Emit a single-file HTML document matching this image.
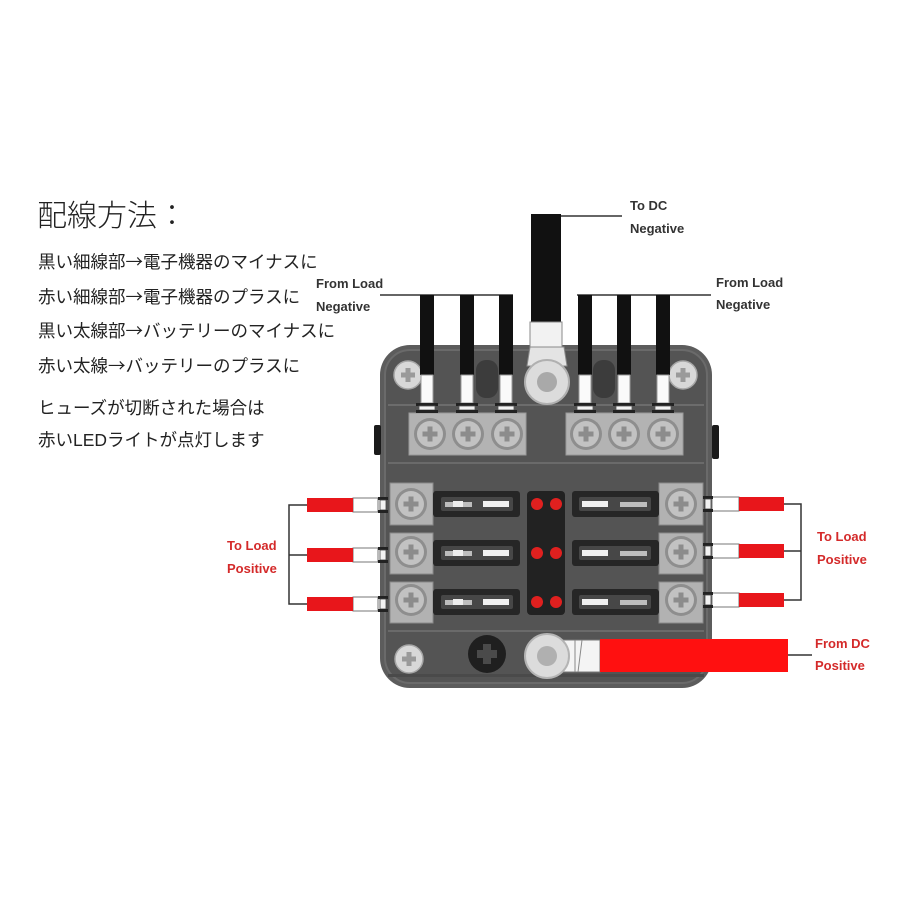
<!DOCTYPE html>
<html><head><meta charset="utf-8"><style>
html,body{margin:0;padding:0;background:#fff;}
svg{display:block;}
.jp{font-family:"Liberation Sans","Noto Sans CJK JP",sans-serif;fill:#222;}
.ar{font-family:"Noto Sans CJK JP",sans-serif;}
.lb{font-family:"Liberation Sans",sans-serif;font-weight:bold;font-size:13px;fill:#333;}
.rd{font-family:"Liberation Sans",sans-serif;font-weight:bold;font-size:13px;fill:#d42a2a;}
</style></head><body>
<svg width="900" height="900" viewBox="0 0 900 900" xmlns="http://www.w3.org/2000/svg">
<defs>
  <g id="scrL">
    <circle r="14" fill="#d8d8d8" stroke="#a6a6a6" stroke-width="1.5"/>
    <rect x="-7" y="-2.5" width="14" height="5" fill="#9a9a9a"/>
    <rect x="-2.5" y="-7" width="5" height="14" fill="#9a9a9a"/>
  </g>
  <g id="scrT">
    <circle r="16" fill="#8e8e8e"/>
    <circle r="13" fill="#c2c2c2"/>
    <rect x="-7.5" y="-2.5" width="15" height="5" fill="#8c8c8c"/>
    <rect x="-2.5" y="-7.5" width="5" height="15" fill="#8c8c8c"/>
  </g>
  <g id="fuseL">
    <rect x="0" y="0" width="87" height="26" rx="3" fill="#262626"/>
    <rect x="8" y="6" width="72" height="14" rx="2" fill="#474747"/>
    <rect x="12" y="11" width="27" height="5" fill="#bdbdbd"/>
    <rect x="20" y="10" width="10" height="6" fill="#eeeeee"/>
    <rect x="50" y="10" width="26" height="6" fill="#f0f0f0"/>
  </g>
  <g id="fuseR">
    <rect x="0" y="0" width="87" height="26" rx="3" fill="#262626"/>
    <rect x="7" y="6" width="72" height="14" rx="2" fill="#474747"/>
    <rect x="10" y="10" width="26" height="6" fill="#f0f0f0"/>
    <rect x="48" y="11" width="27" height="5" fill="#bdbdbd"/>
  </g>
  <g id="wireTop">
    <rect x="-7" y="0" width="14" height="80" fill="#111"/>
    <rect x="-6" y="80" width="12" height="28" fill="#fafafa" stroke="#9a9a9a" stroke-width="1"/>
    <rect x="-11" y="108" width="22" height="3" fill="#222"/>
    <rect x="-8" y="111" width="16" height="4" fill="#f4f4f4" stroke="#555" stroke-width="0.8"/>
    <rect x="-11" y="115" width="22" height="3" fill="#222"/>
  </g>
  <g id="clampL">
    <rect x="0" y="-8" width="10" height="3" fill="#222"/>
    <rect x="2" y="-5" width="6" height="10" fill="#f2f2f2" stroke="#444" stroke-width="0.8"/>
    <rect x="0" y="5" width="10" height="3" fill="#222"/>
  </g>
</defs>

<!-- Left Japanese text -->
<text x="37" y="226" class="jp" font-size="30" font-weight="300">配線方法：</text>
<text x="38" y="268" class="jp" font-size="17.5">黒い細線部<tspan class="ar">→</tspan>電子機器のマイナスに</text>
<text x="38" y="303" class="jp" font-size="17.5">赤い細線部<tspan class="ar">→</tspan>電子機器のプラスに</text>
<text x="38" y="337" class="jp" font-size="17.5">黒い太線部<tspan class="ar">→</tspan>バッテリーのマイナスに</text>
<text x="38" y="372" class="jp" font-size="17.5">赤い太線<tspan class="ar">→</tspan>バッテリーのプラスに</text>
<text x="38" y="414" class="jp" font-size="17.5">ヒューズが切断された場合は</text>
<text x="38" y="446" class="jp" font-size="17.5">赤いLEDライトが点灯します</text>

<!-- Labels -->
<text x="630" y="210" class="lb">To DC</text>
<text x="630" y="233" class="lb">Negative</text>
<text x="316" y="288" class="lb">From Load</text>
<text x="316" y="311" class="lb">Negative</text>
<text x="716" y="287" class="lb">From Load</text>
<text x="716" y="309" class="lb">Negative</text>
<text x="227" y="550" class="rd">To Load</text>
<text x="227" y="573" class="rd">Positive</text>
<text x="817" y="541" class="rd">To Load</text>
<text x="817" y="564" class="rd">Positive</text>
<text x="815" y="648" class="rd">From DC</text>
<text x="815" y="670" class="rd">Positive</text>

<!-- Leader lines -->
<g stroke="#333" stroke-width="1.5" fill="none">
  <line x1="561" y1="216" x2="622" y2="216"/>
  <line x1="380" y1="295" x2="513" y2="295"/>
  <line x1="577" y1="295" x2="711" y2="295"/>
  <polyline points="307,505 289,505 289,604 307,604"/>
  <line x1="289" y1="555" x2="307" y2="555"/>
  <polyline points="784,504 801,504 801,600 784,600"/>
  <line x1="784" y1="551" x2="801" y2="551"/>
  <line x1="788" y1="655" x2="812" y2="655"/>
</g>

<!-- Box body -->
<rect x="380" y="345" width="332" height="343" rx="30" fill="#5c5c5c"/>
<rect x="385" y="350" width="322" height="333" rx="25" fill="#545454" stroke="#6a6a6a" stroke-width="2"/>
<rect x="388" y="404" width="316" height="2" fill="#6c6c6c"/>
<rect x="388" y="462" width="316" height="2" fill="#6a6a6a"/>
<rect x="388" y="630" width="316" height="2" fill="#6a6a6a"/>
<rect x="388" y="674" width="316" height="3" fill="#4a4a4a"/>
<!-- side tabs -->
<rect x="374" y="425" width="7" height="30" rx="2" fill="#1a1a1a"/>
<rect x="712" y="425" width="7" height="34" rx="2" fill="#1a1a1a"/>
<!-- recessed bumps -->
<rect x="476" y="360" width="22" height="38" rx="10" fill="#3c3c3c"/>
<rect x="593" y="360" width="22" height="38" rx="10" fill="#3c3c3c"/>

<!-- top screws -->
<use href="#scrL" x="408" y="375"/>
<use href="#scrL" x="683" y="375"/>

<!-- top terminal bars -->
<rect x="409" y="413" width="117" height="42" fill="#b3b3b3" stroke="#9a9a9a"/>
<rect x="566" y="413" width="117" height="42" fill="#b3b3b3" stroke="#9a9a9a"/>
<use href="#scrT" x="430" y="434"/>
<use href="#scrT" x="468" y="434"/>
<use href="#scrT" x="507" y="434"/>
<use href="#scrT" x="586" y="434"/>
<use href="#scrT" x="624" y="434"/>
<use href="#scrT" x="663" y="434"/>

<!-- thin negative wires -->
<use href="#wireTop" x="427" y="295"/>
<use href="#wireTop" x="467" y="295"/>
<use href="#wireTop" x="506" y="295"/>
<use href="#wireTop" x="585" y="295"/>
<use href="#wireTop" x="624" y="295"/>
<use href="#wireTop" x="663" y="295"/>

<!-- thick DC negative wire -->
<rect x="531" y="214" width="30" height="108" fill="#111"/>
<rect x="530" y="322" width="32" height="25" fill="#f2f2f2" stroke="#8a8a8a"/>
<path d="M530,347 L564,347 L567,366 L527,366 Z" fill="#e4e4e4" stroke="#8a8a8a"/>
<circle cx="547" cy="382" r="22" fill="#dcdcdc" stroke="#b0b0b0" stroke-width="2"/>
<circle cx="547" cy="382" r="10" fill="#a9a9a9"/>

<!-- side terminal blocks -->
<g fill="#b2b2b2" stroke="#8a8a8a">
  <rect x="390" y="483" width="43" height="42"/>
  <rect x="390" y="533" width="43" height="41"/>
  <rect x="390" y="582" width="43" height="41"/>
  <rect x="659" y="483" width="44" height="42"/>
  <rect x="659" y="533" width="44" height="41"/>
  <rect x="659" y="582" width="44" height="41"/>
</g>
<use href="#scrT" x="411" y="504"/>
<use href="#scrT" x="411" y="552"/>
<use href="#scrT" x="411" y="600"/>
<use href="#scrT" x="681" y="504"/>
<use href="#scrT" x="681" y="552"/>
<use href="#scrT" x="681" y="600"/>

<!-- fuses -->
<use href="#fuseL" x="433" y="491"/>
<use href="#fuseL" x="433" y="540"/>
<use href="#fuseL" x="433" y="589"/>
<use href="#fuseR" x="572" y="491"/>
<use href="#fuseR" x="572" y="540"/>
<use href="#fuseR" x="572" y="589"/>

<!-- LED panel -->
<rect x="527" y="491" width="38" height="124" rx="4" fill="#222"/>
<g fill="#e0201f">
  <circle cx="537" cy="504" r="6"/><circle cx="556" cy="504" r="6"/>
  <circle cx="537" cy="553" r="6"/><circle cx="556" cy="553" r="6"/>
  <circle cx="537" cy="602" r="6"/><circle cx="556" cy="602" r="6"/>
</g>

<!-- left small red wires -->
<g>
  <rect x="353" y="498" width="25" height="14" fill="#fff" stroke="#777" stroke-width="1"/>
  <rect x="307" y="498" width="46" height="14" fill="#e8161b"/>
  <use href="#clampL" x="378" y="505"/>
  <rect x="353" y="548" width="25" height="14" fill="#fff" stroke="#777" stroke-width="1"/>
  <rect x="307" y="548" width="46" height="14" fill="#e8161b"/>
  <use href="#clampL" x="378" y="555"/>
  <rect x="353" y="597" width="25" height="14" fill="#fff" stroke="#777" stroke-width="1"/>
  <rect x="307" y="597" width="46" height="14" fill="#e8161b"/>
  <use href="#clampL" x="378" y="604"/>
</g>
<!-- right small red wires -->
<g>
  <rect x="712" y="497" width="27" height="14" fill="#fff" stroke="#777" stroke-width="1"/>
  <rect x="739" y="497" width="45" height="14" fill="#e8161b"/>
  <use href="#clampL" x="703" y="504"/>
  <rect x="712" y="544" width="27" height="14" fill="#fff" stroke="#777" stroke-width="1"/>
  <rect x="739" y="544" width="45" height="14" fill="#e8161b"/>
  <use href="#clampL" x="703" y="551"/>
  <rect x="712" y="593" width="27" height="14" fill="#fff" stroke="#777" stroke-width="1"/>
  <rect x="739" y="593" width="45" height="14" fill="#e8161b"/>
  <use href="#clampL" x="703" y="600"/>
</g>

<!-- bottom parts -->
<use href="#scrL" x="409" y="659"/>
<circle cx="487" cy="654" r="19" fill="#1f1f1f"/>
<rect x="477" y="650" width="20" height="8" fill="#4a4a4a"/>
<rect x="483" y="644" width="8" height="20" fill="#4a4a4a"/>
<path d="M560,640 L600,640 L600,672 L560,672 Z" fill="#f4f4f4" stroke="#777"/>
<line x1="575" y1="640" x2="575" y2="672" stroke="#888"/>
<line x1="582" y1="640" x2="578" y2="672" stroke="#888"/>
<circle cx="547" cy="656" r="22" fill="#dcdcdc" stroke="#b4b4b4" stroke-width="2"/>
<circle cx="547" cy="656" r="10" fill="#b0b0b0"/>
<rect x="600" y="639" width="188" height="33" fill="#ff1010"/>
</svg>
</body></html>
